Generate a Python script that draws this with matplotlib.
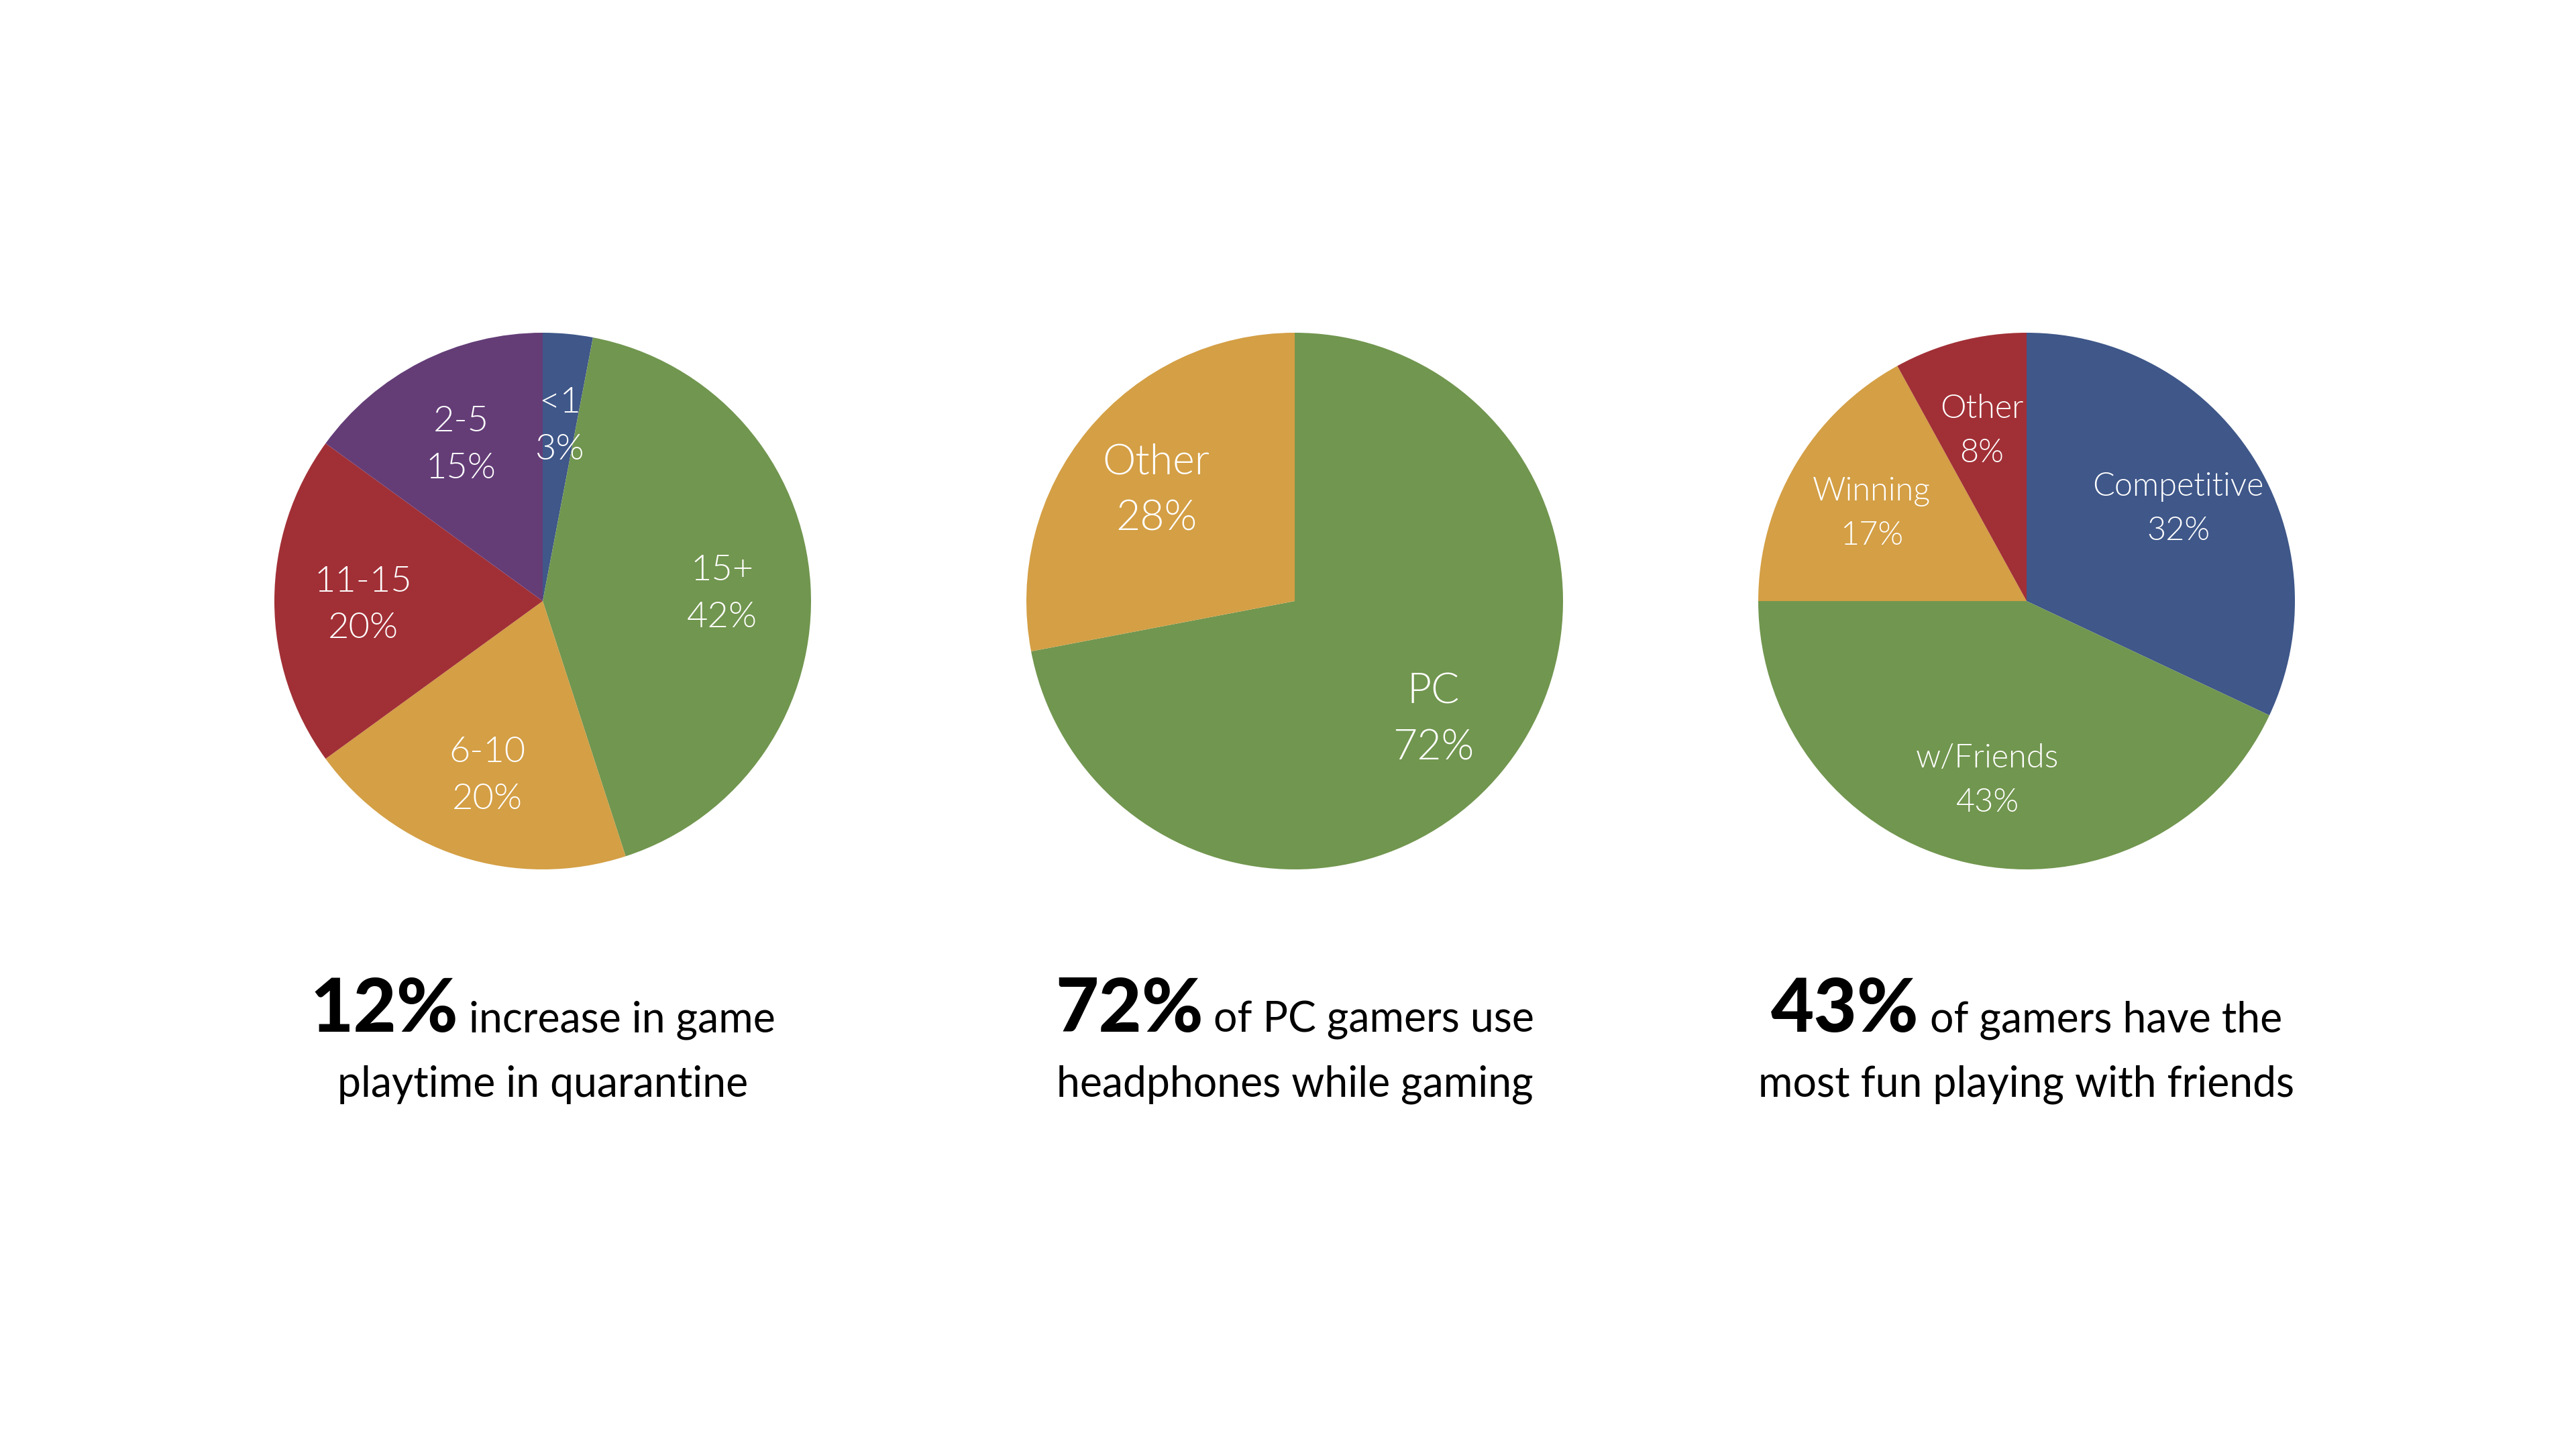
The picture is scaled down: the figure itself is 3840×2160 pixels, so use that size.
import matplotlib
matplotlib.use('Agg')
import matplotlib.pyplot as plt
import numpy as np

# colours
BLUE = '#3F5789'
GREEN = '#71964F'
GOLD = '#D49F45'
RED = '#A13036'
PURPLE = '#643D77'

# pie 1 - weekly playtime hours
play_labels = ['<1', '15+', '6-10', '11-15', '2-5']
play_values = [3, 42, 20, 20, 15]
play_colors = [BLUE, GREEN, GOLD, RED, PURPLE]

# pie 2 - headphones
pc_labels = ['PC', 'Other']
pc_values = [72, 28]
pc_colors = [GREEN, GOLD]

# pie 3 - most fun
fun_labels = ['Competitive', 'w/Friends', 'Winning', 'Other']
fun_values = [32, 43, 17, 8]
fun_colors = [BLUE, GREEN, GOLD, RED]

# captions
captions = [
    ('12%', 'increase in game', 'playtime in quarantine'),
    ('72%', 'of PC gamers use', 'headphones while gaming'),
    ('43%', 'of gamers have the', 'most fun playing with friends'),
]

W, H = 3840, 2160
fig = plt.figure(figsize=(38.4, 21.6), dpi=100)
fig.patch.set_facecolor('white')

R = 400
centers_x = [809, 1930, 3021]
center_y = 896
label_sizes = [39, 45, 35]

pies = [
    (play_labels, play_values, play_colors),
    (pc_labels, pc_values, pc_colors),
    (fun_labels, fun_values, fun_colors),
]

for (labels, values, colors), cx, fs in zip(pies, centers_x, label_sizes):
    ax = fig.add_axes([(cx - R) / W, (H - center_y - R) / H, 2 * R / W, 2 * R / H])
    wedges, _ = ax.pie(values, colors=colors, startangle=90, counterclock=False,
                       wedgeprops=dict(linewidth=0))
    ax.set_xlim(-1, 1)
    ax.set_ylim(-1, 1)
    ax.set_aspect('equal')
    ax.axis('off')
    for w, lab, v in zip(wedges, labels, values):
        mid = np.deg2rad((w.theta1 + w.theta2) / 2)
        r = 0.67
        ax.text(r * np.cos(mid), r * np.sin(mid) - 0.015, f'{lab}\n{v}%',
                ha='center', va='center', color='white', fontsize=fs,
                family='Lato', fontweight=300, linespacing=1.6)

# captions under the pies
renderer = fig.canvas.get_renderer()
y1 = 1 - 1538 / H
y2 = 1 - 1635 / H
for (big, rest, line2), cx in zip(captions, centers_x):
    xc = cx / W
    t1 = fig.text(0, y1, big, fontsize=80, family='Lato', fontweight='black',
                  color='black', va='baseline', ha='left')
    t2 = fig.text(0, y1, ' ' + rest, fontsize=45, family='Lato',
                  color='black', va='baseline', ha='left')
    w1 = t1.get_window_extent(renderer).width / W
    w2 = t2.get_window_extent(renderer).width / W
    x0 = xc - (w1 + w2) / 2
    t1.set_x(x0)
    t2.set_x(x0 + w1)
    fig.text(xc, y2, line2, fontsize=45, family='Lato', color='black',
             va='baseline', ha='center')

fig.savefig('out.png', dpi=100, facecolor='white')
